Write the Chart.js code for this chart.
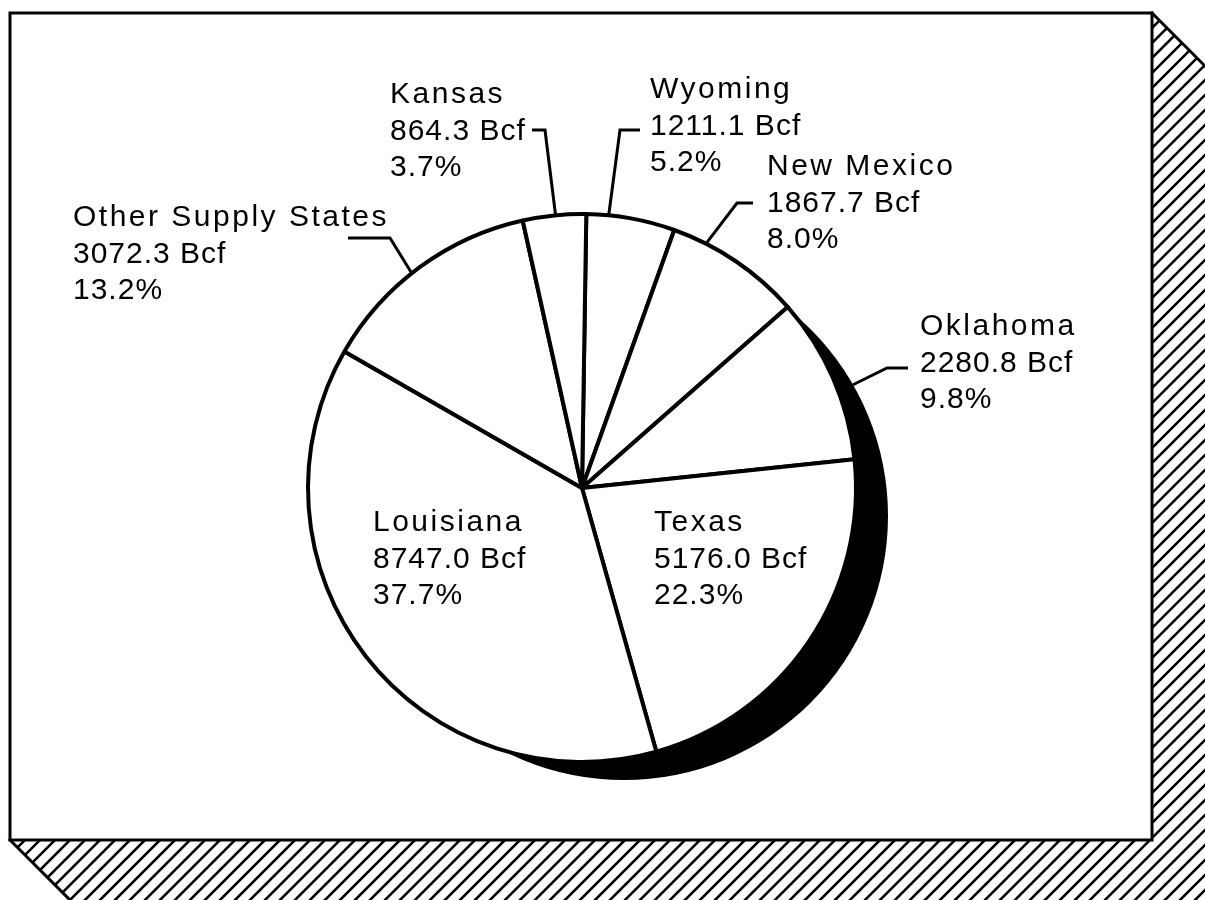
<!DOCTYPE html>
<html>
<head>
<meta charset="utf-8">
<script src="https://cdn.jsdelivr.net/npm/chart.js@4/dist/chart.umd.min.js"></script>
<style>
  html, body { margin: 0; padding: 0; background: #fff; overflow: hidden; }
  canvas { display: block; }
</style>
</head>
<body>
<canvas id="c" width="1205" height="900"></canvas>
<script>
// ---- data ----
const categories = ["Wyoming", "New Mexico", "Oklahoma", "Texas", "Louisiana", "Other Supply States", "Kansas"];
const volumesBcf = [1211.1, 1867.7, 2280.8, 5176.0, 8747.0, 3072.3, 864.3];
const shareLabels = ["5.2%", "8.0%", "9.8%", "22.3%", "37.7%", "13.2%", "3.7%"];

// ---- label layout (annotation placement) ----
const labelLayout = [
  { x: 650, y: 98,  touch: 0.25,  leader: [[640, 130], [620, 130]] },
  { x: 767, y: 175, touch: 0.25,  leader: [[753, 203], [737, 203]] },
  { x: 920, y: 335, touch: 0.58,  leader: [[908, 368], [887, 368]], toShadow: true },
  { x: 654, y: 531 },
  { x: 373, y: 531 },
  { x: 73,  y: 226, touch: 0.456, leader: [[348, 238], [390, 238]] },
  { x: 390, y: 103, touch: 0.52,  leader: [[532, 130], [545, 130]] }
];
const LINE_GAP = 36.5;
const FONT = '30px "Liberation Sans", Arial, sans-serif';
const SHADOW = { dx: 42, dy: 28, shrink: 12 };

function shadowPath(ctx, L, T, R, B, off) {
  ctx.beginPath();
  ctx.moveTo(R, T);
  ctx.lineTo(R + off, T + off);
  ctx.lineTo(R + off, B + off + 10);
  ctx.lineTo(L + off + 10, B + off + 10);
  ctx.lineTo(L, B);
  ctx.closePath();
}

const framePlugin = {
  id: 'frame',
  beforeDraw(chart) {
    const ctx = chart.ctx;
    ctx.save();
    ctx.fillStyle = '#fff';
    ctx.fillRect(0, 0, chart.width, chart.height);
    const L = 10, T = 13, R = 1152, B = 840, off = 58;
    ctx.save();
    shadowPath(ctx, L, T, R, B, off);
    ctx.clip();
    ctx.strokeStyle = '#000';
    ctx.lineWidth = 2.6;
    ctx.beginPath();
    for (let k = -1000; k < 2400; k += 15) {
      ctx.moveTo(k, 950);
      ctx.lineTo(k + 950, 0);
    }
    ctx.stroke();
    ctx.restore();
    shadowPath(ctx, L, T, R, B, off);
    ctx.lineWidth = 3;
    ctx.strokeStyle = '#000';
    ctx.stroke();
    ctx.fillStyle = '#fff';
    ctx.fillRect(L, T, R - L, B - T);
    ctx.lineWidth = 3;
    ctx.strokeRect(L, T, R - L, B - T);
    ctx.restore();
  },
  beforeDatasetsDraw(chart) {
    const arc = chart.getDatasetMeta(0).data[0];
    if (!arc) return;
    const ctx = chart.ctx;
    ctx.save();
    ctx.fillStyle = '#000';
    ctx.beginPath();
    ctx.arc(arc.x + SHADOW.dx, arc.y + SHADOW.dy, arc.outerRadius + 2 - SHADOW.shrink, 0, Math.PI * 2);
    ctx.fill();
    ctx.restore();
  },
  afterDatasetsDraw(chart) {
    const ctx = chart.ctx;
    const meta = chart.getDatasetMeta(0);
    ctx.save();
    ctx.fillStyle = '#000';
    ctx.strokeStyle = '#000';
    ctx.font = FONT;
    ctx.textBaseline = 'alphabetic';
    ctx.textAlign = 'left';
    meta.data.forEach((arc, i) => {
      const lay = labelLayout[i];
      const lines = [categories[i], volumesBcf[i].toFixed(1) + ' Bcf', shareLabels[i]];
      lines.forEach((t, j) => {
        ctx.letterSpacing = j === 0 ? '2.5px' : '1px';
        ctx.fillText(t, lay.x, lay.y + j * LINE_GAP);
      });
      if (lay.leader) {
        const ang = arc.startAngle + (arc.endAngle - arc.startAngle) * lay.touch;
        const ux = Math.cos(ang), uy = Math.sin(ang);
        let rad = arc.outerRadius;
        if (lay.toShadow) {
          const sx = arc.x + SHADOW.dx, sy = arc.y + SHADOW.dy;
          const Rs = arc.outerRadius + 2 - SHADOW.shrink;
          const ox = arc.x - sx, oy = arc.y - sy;
          const b = ox * ux + oy * uy;
          const c = ox * ox + oy * oy - Rs * Rs;
          rad = -b + Math.sqrt(b * b - c);
        }
        ctx.lineWidth = 3;
        ctx.lineJoin = 'miter';
        ctx.beginPath();
        ctx.moveTo(lay.leader[0][0], lay.leader[0][1]);
        ctx.lineTo(lay.leader[1][0], lay.leader[1][1]);
        ctx.lineTo(arc.x + ux * rad, arc.y + uy * rad);
        ctx.stroke();
      }
    });
    ctx.restore();
  }
};

new Chart(document.getElementById('c'), {
  type: 'pie',
  data: {
    labels: categories,
    datasets: [{
      data: volumesBcf,
      backgroundColor: '#ffffff',
      borderColor: '#000000',
      borderWidth: 4,
      hoverBorderWidth: 4,
      hoverBackgroundColor: '#ffffff',
      hoverBorderColor: '#000000'
    }]
  },
  options: {
    responsive: false,
    animation: false,
    devicePixelRatio: 1,
    rotation: 0.9,
    layout: { padding: { left: 306, top: 212, right: 347, bottom: 136 } },
    plugins: { legend: { display: false }, tooltip: { enabled: false } },
    events: []
  },
  plugins: [framePlugin]
});
</script>
</body>
</html>
